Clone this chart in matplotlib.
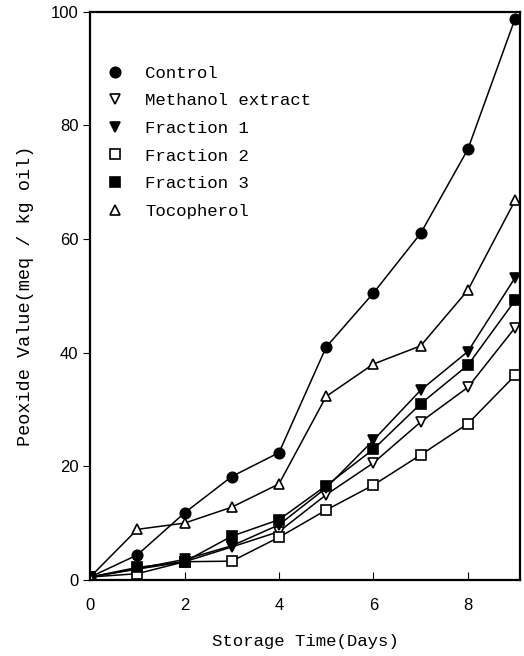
import numpy as np
import matplotlib.pyplot as plt

days = [0, 1, 2, 3, 4, 5, 6, 7, 8, 9]

control = [0.5, 4.4, 11.8, 18.2, 22.4, 41.0, 50.5, 61.0, 75.8, 98.8]
methanol = [0.5, 1.9, 3.2, 5.8, 8.5, 15.0, 20.6, 27.8, 33.9, 44.4]
fraction1 = [0.5, 2.0, 3.6, 6.0, 9.7, 16.2, 24.6, 33.4, 40.2, 53.2]
fraction2 = [0.5, 1.1, 3.2, 3.3, 7.5, 12.3, 16.7, 22.0, 27.5, 36.0]
fraction3 = [0.5, 2.2, 3.2, 7.7, 10.6, 16.6, 23.0, 31.0, 37.8, 49.2]
tocopherol = [0.5, 8.9, 10.0, 12.8, 16.9, 32.3, 38.0, 41.2, 51.0, 66.8]

series = [
    ("Control", control, "o", "black"),
    ("Methanol extract", methanol, "v", "white"),
    ("Fraction 1", fraction1, "v", "black"),
    ("Fraction 2", fraction2, "s", "white"),
    ("Fraction 3", fraction3, "s", "black"),
    ("Tocopherol", tocopherol, "^", "white"),
]

mono = "Liberation Mono"
sans = "Liberation Sans"

fig = plt.figure(figsize=(5.24, 6.56), dpi=100)
ax = fig.add_axes([0.172, 0.116, 0.82, 0.866])

for name, vals, mk, fc in series:
    ax.plot(days, vals, color="black", lw=1.1, marker=mk, markersize=7.5,
            markerfacecolor=fc, markeredgecolor="black", markeredgewidth=1.2,
            label=name)

ax.set_xlim(0, 9.1)
ax.set_ylim(0, 100)
ax.set_xticks([0, 2, 4, 6, 8])
ax.set_yticks([0, 20, 40, 60, 80, 100])
ax.tick_params(axis="x", direction="in", length=6, labelsize=12, pad=13)
ax.tick_params(axis="y", direction="out", length=5, labelsize=12)
for lab in ax.get_xticklabels() + ax.get_yticklabels():
    lab.set_family(sans)
for s in ax.spines.values():
    s.set_linewidth(1.6)

ax.set_xlabel("Storage Time(Days)", family=mono, fontsize=12.5, labelpad=15)
ax.set_ylabel("Peoxide Value(meq / kg oil)", family=mono, fontsize=13.3, labelpad=12)

leg = ax.legend(loc="upper left", bbox_to_anchor=(0.025, 0.93), frameon=False,
                handlelength=0, handletextpad=1.75, labelspacing=0.72,
                prop={"family": mono, "size": 12.5}, borderaxespad=0.4)
for h in leg.legend_handles:
    h.set_linestyle("none")

fig.savefig("out.png", dpi=100)
